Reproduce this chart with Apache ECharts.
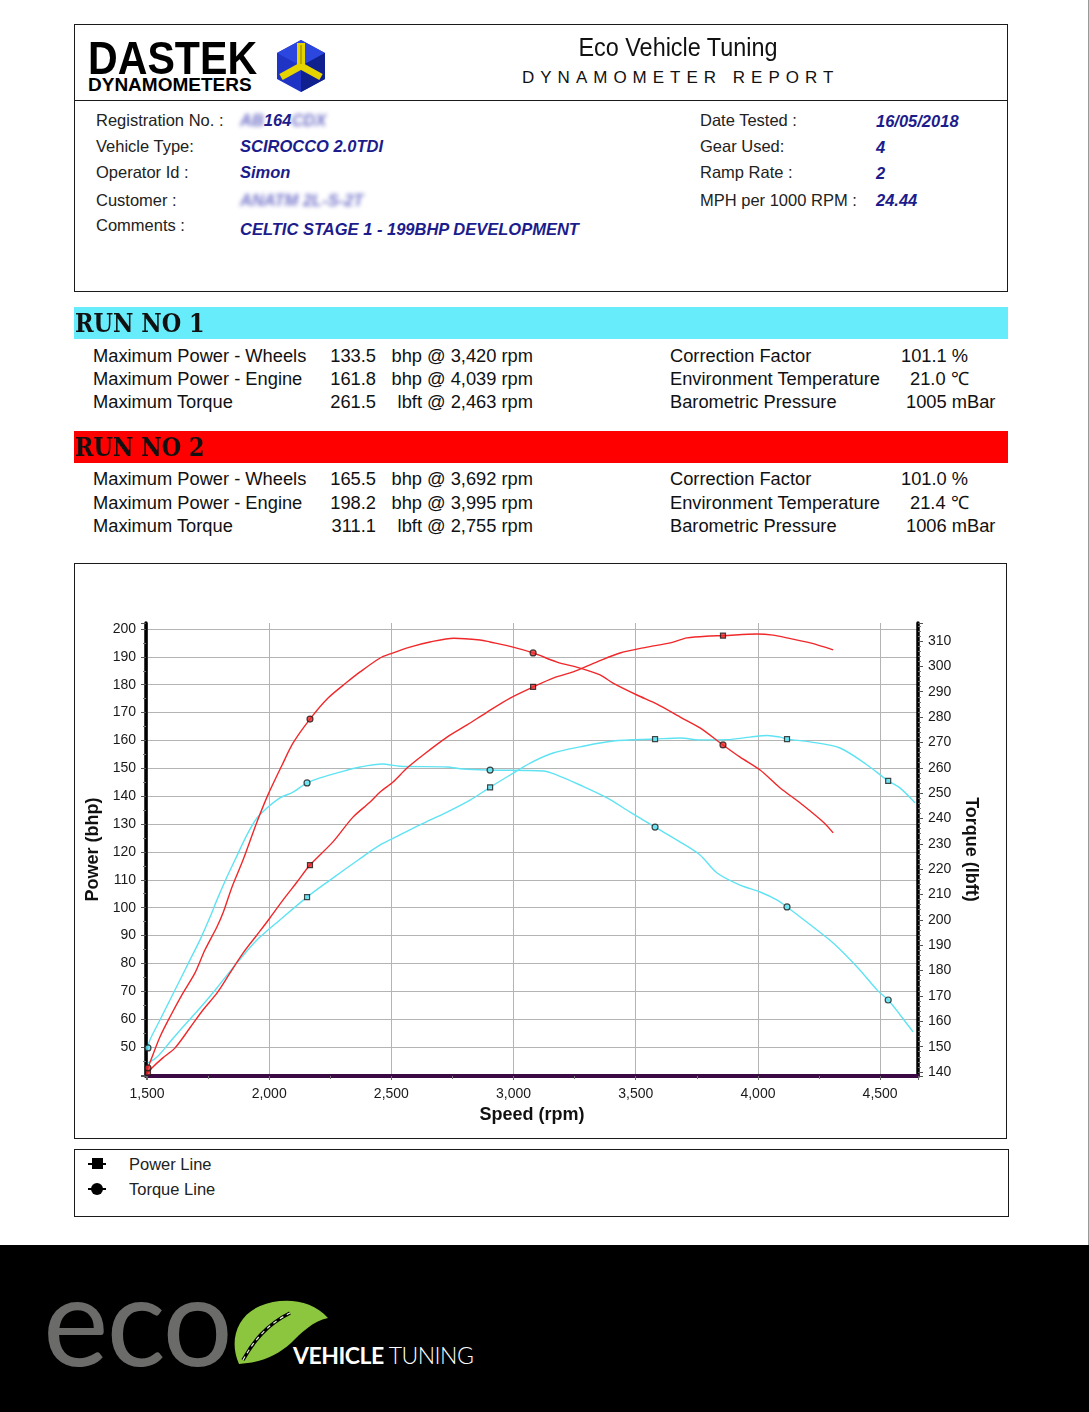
<!DOCTYPE html>
<html><head><meta charset="utf-8">
<script src="https://cdn.jsdelivr.net/npm/echarts@6/dist/echarts.min.js"></script>
<style>
html,body{margin:0;padding:0;background:#fff;}
body{width:1089px;height:1412px;position:relative;overflow:hidden;font-family:"Liberation Sans",Arial,sans-serif;color:#1a1a1a;}
.a{position:absolute;white-space:nowrap;line-height:20px;}
.box{position:absolute;border:1px solid #1a1a1a;box-sizing:border-box;}
.lbl{font-size:16.5px;color:#222;}
.val{font-size:16.5px;color:#1c1c8c;font-style:italic;font-weight:bold;}
.row{font-size:18.3px;color:#111;}
.num{text-align:right;width:80px;}
.unit{text-align:right;width:200px;}
.bar{position:absolute;left:74px;width:934px;height:32px;}
.run{position:absolute;left:75px;font-family:"DejaVu Serif",serif;font-weight:bold;font-size:26px;line-height:32px;transform:scaleX(0.86);transform-origin:left center;color:#111;white-space:nowrap;}
.blur{display:inline-block;filter:blur(2.2px);}
</style></head>
<body>
<!-- header -->
<div class="box" style="left:74px;top:24px;width:934px;height:268px;"></div>
<div style="position:absolute;left:74px;top:100px;width:934px;height:1px;background:#1a1a1a;"></div>
<div class="a" style="left:88px;top:34px;line-height:48px;font-size:47px;font-weight:bold;transform:scaleX(0.875);transform-origin:left center;color:#000;">DASTEK</div>
<div class="a" style="left:88px;top:75px;line-height:20px;font-size:19px;font-weight:bold;color:#000;">DYNAMOMETERS</div>
<svg style="position:absolute;left:274px;top:38px;" width="56" height="56" viewBox="274 38 56 56">
  <polygon points="301,40 325,53 325,79 301,92 277,79 277,53" fill="#1f33c4"/>
  <polygon points="301,40 325,53 301,66 277,53" fill="#2c47e0"/>
  <polygon points="301,66 325,53 325,79 301,92" fill="#10208e"/>
  <polyline points="301,43 301,66" stroke="#e6d400" stroke-width="8" fill="none"/>
  <polyline points="281,77 301,66 321,77" stroke="#e6d400" stroke-width="7" fill="none" stroke-linejoin="miter"/>
  <polyline points="301,45 301,64" stroke="#a89a00" stroke-width="1.5" fill="none"/>
</svg>
<div class="a" style="left:478px;width:400px;text-align:center;top:35px;line-height:24px;font-size:26px;color:#111;transform:scaleX(0.9);transform-origin:center center;">Eco Vehicle Tuning</div>
<div class="a" style="left:522px;top:68px;line-height:20px;font-size:17px;letter-spacing:6px;color:#111;">DYNAMOMETER REPORT</div>

<div class="a lbl" style="left:96px;top:110px;">Registration No. :</div>
<div class="a lbl" style="left:96px;top:136px;">Vehicle Type:</div>
<div class="a lbl" style="left:96px;top:162px;">Operator Id :</div>
<div class="a lbl" style="left:96px;top:190px;">Customer :</div>
<div class="a lbl" style="left:96px;top:215px;">Comments :</div>
<div class="a val" style="left:240px;top:110px;"><span class="blur" style="color:#6f6fc8;">AB</span>164<span class="blur" style="color:#6f6fc8;">CDX</span></div>
<div class="a val" style="left:240px;top:136px;">SCIROCCO 2.0TDI</div>
<div class="a val" style="left:240px;top:162px;">Simon</div>
<div class="a val" style="left:240px;top:190px;"><span class="blur" style="color:#7676cc;">ANATM 2L-S-2T</span></div>
<div class="a val" style="left:240px;top:219px;">CELTIC STAGE 1 - 199BHP DEVELOPMENT</div>

<div class="a lbl" style="left:700px;top:110px;">Date Tested :</div>
<div class="a lbl" style="left:700px;top:136px;">Gear Used:</div>
<div class="a lbl" style="left:700px;top:162px;">Ramp Rate :</div>
<div class="a lbl" style="left:700px;top:190px;">MPH per 1000 RPM :</div>
<div class="a val" style="left:876px;top:111px;">16/05/2018</div>
<div class="a val" style="left:876px;top:137px;">4</div>
<div class="a val" style="left:876px;top:163px;">2</div>
<div class="a val" style="left:876px;top:190px;">24.44</div>

<!-- run 1 -->
<div class="bar" style="top:307px;background:#66ecfb;"></div>
<div class="run" style="top:307px;">RUN NO 1</div>
<div class="a row" style="left:93px;top:346px;">Maximum Power - Wheels</div>
<div class="a row" style="left:93px;top:369px;">Maximum Power - Engine</div>
<div class="a row" style="left:93px;top:392px;">Maximum Torque</div>
<div class="a row num" style="left:296px;top:346px;">133.5</div>
<div class="a row num" style="left:296px;top:369px;">161.8</div>
<div class="a row num" style="left:296px;top:392px;">261.5</div>
<div class="a row unit" style="left:333px;top:346px;">bhp @ 3,420 rpm</div>
<div class="a row unit" style="left:333px;top:369px;">bhp @ 4,039 rpm</div>
<div class="a row unit" style="left:333px;top:392px;">lbft @ 2,463 rpm</div>
<div class="a row" style="left:670px;top:346px;">Correction Factor</div>
<div class="a row" style="left:670px;top:369px;">Environment Temperature</div>
<div class="a row" style="left:670px;top:392px;">Barometric Pressure</div>
<div class="a row" style="left:901px;top:346px;">101.1 %</div>
<div class="a row" style="left:910px;top:369px;">21.0 ℃</div>
<div class="a row" style="left:906px;top:392px;">1005 mBar</div>

<!-- run 2 -->
<div class="bar" style="top:431px;background:#ff0000;"></div>
<div class="run" style="top:431px;">RUN NO 2</div>
<div class="a row" style="left:93px;top:469px;">Maximum Power - Wheels</div>
<div class="a row" style="left:93px;top:493px;">Maximum Power - Engine</div>
<div class="a row" style="left:93px;top:516px;">Maximum Torque</div>
<div class="a row num" style="left:296px;top:469px;">165.5</div>
<div class="a row num" style="left:296px;top:493px;">198.2</div>
<div class="a row num" style="left:296px;top:516px;">311.1</div>
<div class="a row unit" style="left:333px;top:469px;">bhp @ 3,692 rpm</div>
<div class="a row unit" style="left:333px;top:493px;">bhp @ 3,995 rpm</div>
<div class="a row unit" style="left:333px;top:516px;">lbft @ 2,755 rpm</div>
<div class="a row" style="left:670px;top:469px;">Correction Factor</div>
<div class="a row" style="left:670px;top:493px;">Environment Temperature</div>
<div class="a row" style="left:670px;top:516px;">Barometric Pressure</div>
<div class="a row" style="left:901px;top:469px;">101.0 %</div>
<div class="a row" style="left:910px;top:493px;">21.4 ℃</div>
<div class="a row" style="left:906px;top:516px;">1006 mBar</div>

<!-- chart -->
<div id="chart" style="position:absolute;left:74px;top:563px;width:933px;height:576px;"></div>
<div class="box" style="left:74px;top:563px;width:933px;height:576px;pointer-events:none;"></div>

<!-- legend -->
<div class="box" style="left:74px;top:1149px;width:935px;height:68px;"></div>
<div style="position:absolute;left:88px;top:1163px;width:18px;height:2px;background:#000;"></div>
<div style="position:absolute;left:92px;top:1158px;width:11px;height:11px;background:#000;"></div>
<div style="position:absolute;left:88px;top:1188px;width:18px;height:2px;background:#000;"></div>
<div style="position:absolute;left:91px;top:1183px;width:12px;height:12px;border-radius:50%;background:#000;"></div>
<div class="a lbl" style="left:129px;top:1154px;">Power Line</div>
<div class="a lbl" style="left:129px;top:1179px;">Torque Line</div>

<!-- right page edge -->
<div style="position:absolute;left:1088px;top:0;width:1px;height:1245px;background:#9a9a9a;"></div>

<!-- footer -->
<div style="position:absolute;left:0;top:1245px;width:1089px;height:167px;background:#000;"></div>
<div class="a" style="left:43px;top:1258px;line-height:120px;font-family:Lato,sans-serif;font-size:124px;color:#6b6c69;letter-spacing:-2px;">eco</div>
<svg style="position:absolute;left:228px;top:1293px;" width="106" height="78" viewBox="228 1293 106 78">
  <path d="M239,1364 C229,1342 236,1316 260,1306 C282,1297 311,1299 328,1318 C313,1321 301,1333 291,1343 C277,1356 259,1363 239,1364 Z" fill="#8cc63f"/>
  <path d="M243,1360 C253,1342 266,1325 290,1313" stroke="#000" stroke-width="3.5" fill="none"/>
  <path d="M243,1360 C253,1342 266,1325 290,1313" stroke="#e8f3d8" stroke-width="1.2" stroke-dasharray="4,4" fill="none"/>
</svg>
<div class="a" style="left:293px;top:1344px;line-height:22px;font-family:Lato,sans-serif;font-size:23px;color:#fff;letter-spacing:-0.5px;"><b>VEHICLE</b><span style="font-weight:300;"> TUNING</span></div>

<script>
// ---- data (rpm, value) ----
const run1Power = [[1504,44.3],[1541,46.4],[1594,51.8],[1647,57.2],[1717,64],[1786,71.2],[1868,80.2],[1950,88.4],[2044,95.6],[2155,103.8],[2249,109.9],[2364,117.1],[2454,122.5],[2535,126.1],[2617,129.7],[2728,134.3],[2822,138.6],[2904,143.2],[2986,147.6],[3068,151.9],[3162,155.5],[3272,157.7],[3407,159.8],[3579,160.5],[3682,160.9],[3763,160.2],[3874,160.3],[3968,161.2],[4039,161.8],[4091,161.2],[4119,160.5],[4214,159.5],[4336,157.3],[4447,151.2],[4533,145.5],[4582,142.9],[4643,137.6]];
const run1Torque = [[1504,149.5],[1512,152.6],[1553,160.5],[1594,168.4],[1635,176.3],[1676,184.2],[1717,192.1],[1758,201.1],[1786,207.8],[1827,216.9],[1860,223.6],[1909,233.5],[1950,240.2],[1991,244.1],[2044,248.1],[2098,250.4],[2155,254],[2208,256],[2290,258.3],[2372,260.3],[2463,261.5],[2535,260.6],[2728,260.3],[2793,259.5],[2904,259.1],[3121,258.7],[3178,257.1],[3272,253.2],[3383,248.1],[3477,242.5],[3579,236.6],[3682,230.7],[3763,225.6],[3833,218.5],[3927,213.7],[4009,211],[4079,207.8],[4119,205.1],[4226,197.2],[4308,190.9],[4406,181.4],[4488,172.3],[4533,168.4],[4582,162.5],[4635,155.8]];
const run2Power = [[1504,40.8],[1520,42.5],[1565,46.1],[1615,49.7],[1676,56.9],[1729,63.3],[1787,69.4],[1840,76.6],[1893,83.7],[1950,90.2],[2003,96.3],[2057,102.8],[2114,109.2],[2167,115.3],[2261,123.6],[2343,132.5],[2413,137.9],[2454,141.5],[2507,145.1],[2564,150.1],[2630,154.8],[2728,161.2],[2810,165.6],[2892,170.2],[2986,175.2],[3080,179.2],[3162,182.4],[3244,184.6],[3342,188.2],[3436,191.4],[3546,193.5],[3641,195],[3710,196.8],[3804,197.5],[3857,197.6],[3995,198.2],[4062,197.8],[4119,196.8],[4214,195],[4308,192.5]];
const run2Torque = [[1504,141.6],[1516,144.7],[1553,153.8],[1594,161.7],[1647,171.1],[1696,179],[1737,188.1],[1786,197.2],[1811,202.7],[1848,213],[1893,223.6],[1950,238.6],[1995,249.3],[2053,261.1],[2098,269.8],[2167,279.2],[2241,287.5],[2319,293.8],[2372,297.8],[2454,303.3],[2495,304.9],[2576,307.6],[2658,309.6],[2755,311.1],[2863,310.4],[2904,309.6],[2998,307.6],[3080,305.3],[3178,301.7],[3272,299.3],[3354,296.6],[3407,293.4],[3505,288.7],[3587,285.1],[3682,280],[3763,275.7],[3857,269],[3927,264.2],[4009,259.1],[4091,252],[4173,246.1],[4267,238.6],[4308,234.3]];
// rpm at which the report draws its sample markers
const run1PowerMarks = [2155,2904,3579,4119,4533];
const run1TorqueMarks = [1504,2155,2904,3579,4119,4533];
const run2PowerMarks = [1504,2167,3080,3857];
const run2TorqueMarks = [1504,2167,3080,3857];
// axis names
const xName = 'Speed (rpm)', yLeftName = 'Power (bhp)', yRightName = 'Torque (lbft)';

const CYAN = '#5fe3f3', RED = '#f0282a';
const pick = (curve, marks) => marks.map(r => curve.find(p => p[0] === r));
const font = {fontFamily:'Liberation Sans', fontSize:14, color:'#1a1a1a'};
const nameFont = {fontFamily:'Liberation Sans', fontSize:18, fontWeight:'bold', color:'#111'};

function lineSeries(data, color, yIdx, z){
  return {type:'line', data, yAxisIndex:yIdx, symbol:'none', smooth:0.3, z,
    lineStyle:{color, width:1.4}, itemStyle:{color}, emphasis:{disabled:true}};
}
function markSeries(data, color, yIdx, shape){
  return {type:'scatter', data, yAxisIndex:yIdx, symbol:shape, symbolSize: shape==='rect'?5:6, z:10,
    itemStyle:{color, borderColor:'#1a1a1a', borderWidth:1.2}, emphasis:{disabled:true}};
}

const chart = echarts.init(document.getElementById('chart'));
chart.setOption({
  animation:false,
  grid:{left:72, right:89, top:60, bottom:63},
  xAxis:{type:'value', min:1496, max:4655, minInterval:500, maxInterval:500,
    name:xName, nameLocation:'middle', nameGap:30, nameTextStyle:nameFont,
    axisLine:{onZero:false, lineStyle:{color:'#3b0a45', width:4}},
    axisTick:{show:true, length:4, lineStyle:{color:'#666'}},
    minorTick:{show:true, splitNumber:2, length:3, lineStyle:{color:'#777'}},
    axisLabel:{...font, margin:11, showMinLabel:false, showMaxLabel:false,
      formatter:v => (Math.abs(v % 500) < 1e-6 ? v.toLocaleString('en-US') : '')},
    splitLine:{show:true, showMinLine:false, showMaxLine:false, lineStyle:{color:'#b4b4b4', width:1}}
  },
  yAxis:[
    {type:'value', position:'left', min:39.6, max:202.15, minInterval:10, maxInterval:10,
      name:yLeftName, nameLocation:'middle', nameGap:41, nameRotate:90, nameTextStyle:nameFont,
      axisLine:{show:true, onZero:false, lineStyle:{color:'#000', width:3.5}},
      axisTick:{show:true, length:5, lineStyle:{color:'#555'}},
      minorTick:{show:true, splitNumber:2, length:3, lineStyle:{color:'#777'}},
      axisLabel:{...font, margin:10, showMinLabel:false, showMaxLabel:false,
        formatter:v => (Math.abs(v % 10) < 1e-6 && v >= 50 ? String(v) : '')},
      splitLine:{show:true, showMinLine:false, showMaxLine:false, lineStyle:{color:'#b4b4b4', width:1}}
    },
    {type:'value', position:'right', min:138.42, max:317.1, minInterval:10, maxInterval:10,
      name:yRightName, nameLocation:'middle', nameGap:31, nameRotate:-90, nameTextStyle:nameFont,
      axisLine:{show:true, onZero:false, lineStyle:{color:'#000', width:3.5}},
      axisTick:{show:true, length:5, lineStyle:{color:'#555'}},
      minorTick:{show:true, splitNumber:5, length:3, lineStyle:{color:'#777'}},
      axisLabel:{...font, margin:10, showMinLabel:false, showMaxLabel:false,
        formatter:v => (Math.abs(v % 10) < 1e-6 ? String(v) : '')},
      splitLine:{show:false}
    }
  ],
  series:[
    lineSeries(run1Power, CYAN, 0, 2),
    lineSeries(run1Torque, CYAN, 1, 2),
    lineSeries(run2Power, RED, 0, 3),
    lineSeries(run2Torque, RED, 1, 3),
    markSeries(pick(run1Power, run1PowerMarks), CYAN, 0, 'rect'),
    markSeries(pick(run1Torque, run1TorqueMarks), CYAN, 1, 'circle'),
    markSeries(pick(run2Power, run2PowerMarks), RED, 0, 'rect'),
    markSeries(pick(run2Torque, run2TorqueMarks), RED, 1, 'circle')
  ]
});
</script>
</body></html>
